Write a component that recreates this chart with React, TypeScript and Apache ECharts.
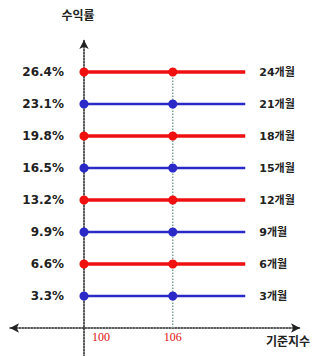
import React, { useEffect, useRef } from "react";
import * as echarts from "echarts";

const periods = ["24개월", "21개월", "18개월", "15개월", "12개월", "9개월", "6개월", "3개월"];
const returns = [26.4, 23.1, 19.8, 16.5, 13.2, 9.9, 6.6, 3.3];
const lineColors = ["#f01010", "#2a2ac8", "#f01010", "#2a2ac8", "#f01010", "#2a2ac8", "#f01010", "#2a2ac8"];
const baseIndex = 100;
const markIndex = 106;
const endIndex = 110.9;
const xTickLabels = [100, 106];

export default function App() {
  const ref = useRef<HTMLDivElement>(null);
  useEffect(() => {
    document.body.style.margin = "0";
    const chart = echarts.init(ref.current!, null, { renderer: "svg" });
    const font = "'DejaVu Sans', 'Noto Sans CJK KR', sans-serif";
    const series: any[] = periods.map((p, i) => ({
      name: p,
      type: "line",
      data: [
        { value: [baseIndex, returns[i]] },
        { value: [markIndex, returns[i]] },
        { value: [endIndex, returns[i]], symbol: "none" },
      ],
      symbol: "circle",
      symbolSize: 9,
      lineStyle: { color: lineColors[i], width: i % 2 === 0 ? 3.5 : 2.5 },
      itemStyle: { color: lineColors[i] },
      endLabel: {
        show: true,
        formatter: "{a}",
        distance: 14,
        fontFamily: font,
        fontSize: 11,
        fontWeight: "bold",
        color: "#222",
      },
      z: 3,
    }));
    series.push({
      name: "ref",
      type: "line",
      data: [
        [markIndex, 0],
        [markIndex, returns[0]],
      ],
      symbol: "none",
      lineStyle: { color: "#7fa89a", width: 1.5, type: "dotted" },
      z: 2,
    });
    chart.setOption({
      animation: false,
      grid: { left: 10, right: 21, top: 40, bottom: -4, outerBoundsMode: "none", containLabel: false },
      xAxis: {
        type: "value",
        min: 95,
        max: 114.6,
        interval: 1,
        splitLine: { show: false },
        axisTick: { show: false },
        axisLine: {
          onZero: true,
          symbol: ["arrow", "arrow"],
          symbolSize: [7, 9],
          lineStyle: { color: "#222", width: 1.5, type: "dotted" },
        },
        axisLabel: {
          margin: -29,
          showMinLabel: false,
          showMaxLabel: false,
          formatter: (v: number) => {
            const r = Math.round(v);
            if (Math.abs(v - r) > 1e-6 || !xTickLabels.includes(r)) return "";
            return r === baseIndex ? `{a|${r}}` : `{b|${r}}`;
          },
          rich: {
            a: { color: "#e01010", fontSize: 12, fontFamily: "'Liberation Serif', serif", padding: [0, 0, 0, 34] },
            b: { color: "#e01010", fontSize: 12, fontFamily: "'Liberation Serif', serif" },
          },
        },
        name: "기준지수",
        nameLocation: "end",
        nameGap: -12,
        nameTextStyle: {
          fontFamily: font,
          fontSize: 12,
          fontWeight: "bold",
          color: "#222",
          align: "center",
          verticalAlign: "top",
          padding: [8, 0, 0, 0],
        },
      },
      yAxis: {
        type: "value",
        min: -3.3,
        max: 29.7,
        interval: 3.3,
        offset: -74,
        splitLine: { show: false },
        axisTick: { show: false },
        axisLine: {
          show: true,
          onZero: false,
          symbol: ["none", "arrow"],
          symbolSize: [7, 9],
          lineStyle: { color: "#222", width: 1.5, type: "dotted" },
        },
        axisLabel: {
          margin: 20,
          fontFamily: font,
          fontSize: 12,
          fontWeight: "bold",
          color: "#222",
          formatter: (v: number) => (v < 1 || v > 29 ? "" : v.toFixed(1) + "%"),
        },
        name: "수익률",
        nameLocation: "end",
        nameGap: 18,
        nameTextStyle: { fontFamily: font, fontSize: 12, fontWeight: "bold", color: "#222", padding: [0, 12, 0, 0] },
      },
      series,
    });
    return () => chart.dispose();
  }, []);
  return <div ref={ref} style={{ width: 321, height: 356, position: "fixed", left: 0, top: 0, background: "#fff" }} />;
}
